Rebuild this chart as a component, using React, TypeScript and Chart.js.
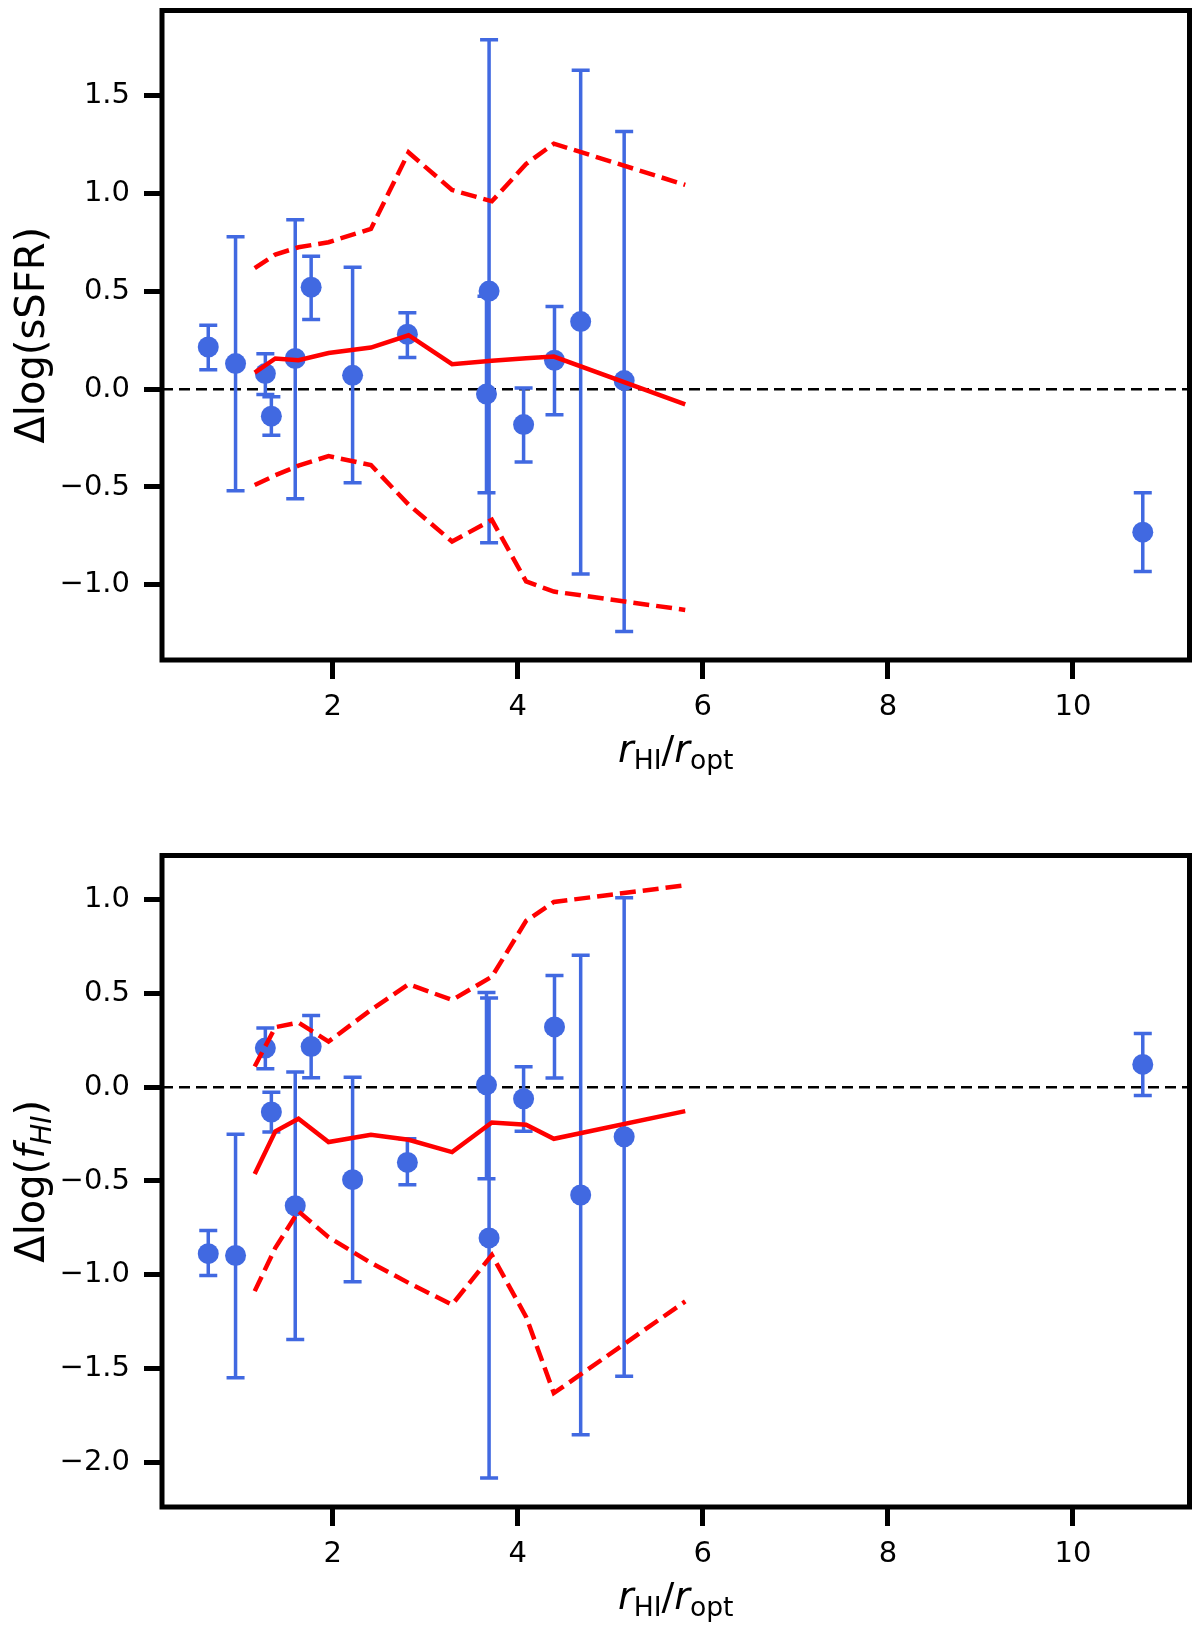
import { useEffect, useRef } from "react";
import { Chart, registerables } from "chart.js";

Chart.register(...registerables);

// galaxies: r_HI / r_opt
const rRatio = [0.655, 0.95, 1.272, 1.337, 1.595, 1.767, 2.215, 2.807, 3.662, 3.69, 4.063, 4.397, 4.68, 5.15, 10.755];

// top panel: delta log sSFR with error range
const ssfr = [0.216, 0.131, 0.08, -0.138, 0.157, 0.522, 0.071, 0.281, -0.025, 0.502, -0.181, 0.148, 0.346, 0.044, -0.731];
const ssfrLo = [0.1, -0.519, -0.027, -0.236, -0.56, 0.357, -0.478, 0.162, -0.529, -0.785, -0.372, -0.131, -0.945, -1.239, -0.932];
const ssfrHi = [0.327, 0.78, 0.182, -0.039, 0.867, 0.68, 0.624, 0.391, 0.475, 1.787, 0.006, 0.423, 1.631, 1.318, -0.529];

// bottom panel: delta log f_HI with error range
const fhi = [-0.888, -0.898, 0.209, -0.132, -0.632, 0.217, -0.493, -0.401, 0.013, -0.804, -0.061, 0.322, -0.575, -0.264, 0.122];
const fhiLo = [-1.005, -1.55, 0.099, -0.239, -1.346, 0.051, -1.038, -0.52, -0.488, -2.085, -0.235, 0.049, -1.854, -1.542, -0.044];
const fhiHi = [-0.765, -0.25, 0.316, -0.026, 0.081, 0.383, 0.054, -0.275, 0.506, 0.477, 0.109, 0.596, 0.704, 1.011, 0.287];

// comparison sample: running median and spread
const binX = [1.157, 1.38, 1.63, 1.955, 2.413, 2.82, 3.29, 3.72, 4.09, 4.39, 5.81];
const ssfrMed = [0.085, 0.157, 0.148, 0.185, 0.213, 0.276, 0.128, 0.146, 0.158, 0.167, -0.077];
const ssfrUp = [0.619, 0.689, 0.726, 0.752, 0.82, 1.211, 1.019, 0.961, 1.152, 1.256, 1.045];
const ssfrDown = [-0.49, -0.44, -0.391, -0.342, -0.388, -0.59, -0.779, -0.668, -0.983, -1.035, -1.129];
const fhiMed = [-0.463, -0.235, -0.168, -0.292, -0.253, -0.28, -0.346, -0.188, -0.2, -0.275, -0.127];
const fhiUp = [0.111, 0.321, 0.345, 0.244, 0.413, 0.55, 0.466, 0.59, 0.888, 0.989, 1.078];
const fhiDown = [-1.088, -0.857, -0.662, -0.8, -0.937, -1.044, -1.16, -0.895, -1.225, -1.632, -1.143];

const xTicks = [2, 4, 6, 8, 10];
const ssfrTicks = [-1.0, -0.5, 0.0, 0.5, 1.0, 1.5];
const fhiTicks = [-2.0, -1.5, -1.0, -0.5, 0.0, 0.5, 1.0];

const FONT = "'DejaVu Sans', sans-serif";
const BLUE = "#4169E1";
const RED = "#FF0000";
const W = 1200;
const H = 814;

type Seg = { t: string; italic?: boolean; sub?: boolean };

function drawRich(ctx: any, segs: Seg[], size: number, cx: number, cy: number, angle: number) {
  const subSize = size * 0.7;
  const fontOf = (s: Seg) => `${s.italic ? "italic " : ""}${s.sub ? subSize : size}px ${FONT}`;
  ctx.save();
  ctx.translate(cx, cy);
  ctx.rotate(angle);
  ctx.fillStyle = "#000";
  ctx.textBaseline = "alphabetic";
  ctx.textAlign = "left";
  let total = 0;
  const widths = segs.map((s) => {
    ctx.font = fontOf(s);
    const w = ctx.measureText(s.t).width;
    total += w;
    return w;
  });
  let x = -total / 2;
  segs.forEach((s, i) => {
    ctx.font = fontOf(s);
    ctx.fillText(s.t, x, s.sub ? size * 0.18 : 0);
    x += widths[i];
  });
  ctx.restore();
}

const xTitle: Seg[] = [
  { t: "r", italic: true },
  { t: "HI", sub: true },
  { t: "/" },
  { t: "r", italic: true },
  { t: "opt", sub: true },
];

function makePlugin(lo: number[], hi: number[], yTitle: Seg[]) {
  return {
    id: "errorBarsAndFrame",
    beforeDatasetsDraw(chart: any) {
      const { ctx, chartArea, scales } = chart;
      ctx.save();
      // zero line
      const y0 = scales.y.getPixelForValue(0);
      ctx.strokeStyle = "#000";
      ctx.lineWidth = 2.5;
      ctx.setLineDash([11, 6]);
      ctx.beginPath();
      ctx.moveTo(chartArea.left, y0);
      ctx.lineTo(chartArea.right, y0);
      ctx.stroke();
      ctx.setLineDash([]);
      // error bars
      ctx.strokeStyle = BLUE;
      ctx.lineWidth = 3.5;
      rRatio.forEach((r, i) => {
        const px = scales.x.getPixelForValue(r);
        const pl = scales.y.getPixelForValue(lo[i]);
        const ph = scales.y.getPixelForValue(hi[i]);
        ctx.beginPath();
        ctx.moveTo(px, pl);
        ctx.lineTo(px, ph);
        ctx.moveTo(px - 9, pl);
        ctx.lineTo(px + 9, pl);
        ctx.moveTo(px - 9, ph);
        ctx.lineTo(px + 9, ph);
        ctx.stroke();
      });
      ctx.restore();
    },
    afterDraw(chart: any) {
      const { ctx, chartArea } = chart;
      ctx.save();
      ctx.strokeStyle = "#000";
      ctx.lineWidth = 5;
      ctx.strokeRect(chartArea.left, chartArea.top, chartArea.right - chartArea.left, chartArea.bottom - chartArea.top);
      ctx.restore();
      const midX = (chartArea.left + chartArea.right) / 2;
      const midY = (chartArea.top + chartArea.bottom) / 2;
      drawRich(ctx, xTitle, 38, midX, chartArea.bottom + 102, 0);
      drawRich(ctx, yTitle, 40, 44, midY, -Math.PI / 2);
    },
  };
}

const fmtY = (v: number) => (v < 0 ? "\u2212" : "") + Math.abs(v).toFixed(1);

const noPadding = (s: any) => {
  s.paddingTop = 0;
  s.paddingBottom = 0;
  s.paddingLeft = 0;
  s.paddingRight = 0;
};

function buildChart(
  canvas: HTMLCanvasElement,
  vals: number[],
  lo: number[],
  hi: number[],
  med: number[],
  up: number[],
  down: number[],
  yTicks: number[],
  yMin: number,
  yMax: number,
  top: number,
  xHeight: number,
  yTitle: Seg[]
) {
  const tickFont = { family: FONT, size: 29 };
  const line = (ys: number[], dash: number[]) => ({
    type: "scatter" as const,
    data: binX.map((x, i) => ({ x, y: ys[i] })),
    showLine: true,
    borderColor: RED,
    borderWidth: 4.5,
    borderDash: dash,
    pointRadius: 0,
    order: 0,
  });
  return new Chart(canvas, {
    type: "scatter",
    data: {
      datasets: [
        line(med, []),
        line(up, [16, 7]),
        line(down, [16, 7]),
        {
          data: rRatio.map((x, i) => ({ x, y: vals[i] })),
          pointRadius: 10.5,
          pointBackgroundColor: BLUE,
          pointBorderColor: BLUE,
          pointBorderWidth: 0,
          order: 1,
        },
      ],
    },
    options: {
      responsive: false,
      animation: false,
      events: [],
      layout: { padding: { top, right: 6, left: 0, bottom: 0 } },
      plugins: { legend: { display: false }, tooltip: { enabled: false } },
      scales: {
        x: {
          type: "linear",
          min: 0.155,
          max: 11.26,
          afterFit: (s: any) => {
            s.height = xHeight;
            noPadding(s);
          },
          afterBuildTicks: (s: any) => {
            s.ticks = xTicks.map((value) => ({ value }));
          },
          grid: { drawOnChartArea: false, drawTicks: true, tickLength: 19, tickWidth: 5, tickColor: "#000" },
          border: { display: false },
          ticks: { font: tickFont, color: "#000", padding: 11, maxRotation: 0, callback: (v: any) => String(v) },
        },
        y: {
          type: "linear",
          min: yMin,
          max: yMax,
          afterFit: (s: any) => {
            s.width = 162;
            noPadding(s);
          },
          afterBuildTicks: (s: any) => {
            s.ticks = yTicks.map((value) => ({ value }));
          },
          grid: { drawOnChartArea: false, drawTicks: true, tickLength: 18, tickWidth: 5, tickColor: "#000" },
          border: { display: false },
          ticks: { font: tickFont, color: "#000", padding: 14, callback: (v: any) => fmtY(Number(v)) },
        },
      },
    },
    plugins: [makePlugin(lo, hi, yTitle)],
  } as any);
}

export default function App() {
  const topRef = useRef<HTMLCanvasElement>(null);
  const bottomRef = useRef<HTMLCanvasElement>(null);

  useEffect(() => {
    if (!topRef.current || !bottomRef.current) return;
    const topChart = buildChart(
      topRef.current, ssfr, ssfrLo, ssfrHi, ssfrMed, ssfrUp, ssfrDown,
      ssfrTicks, -1.385, 1.937, 9.5, H - 660, [{ t: "\u0394log(sSFR)" }]
    );
    const bottomChart = buildChart(
      bottomRef.current, fhi, fhiLo, fhiHi, fhiMed, fhiUp, fhiDown,
      fhiTicks, -2.24, 1.237, 41.5, H - 693,
      [{ t: "\u0394log(" }, { t: "f", italic: true }, { t: "HI", italic: true, sub: true }, { t: ")" }]
    );
    return () => {
      topChart.destroy();
      bottomChart.destroy();
    };
  }, []);

  return (
    <div style={{ position: "absolute", left: 0, top: 0, width: W, background: "#fff" }}>
      <canvas ref={topRef} width={W} height={H} style={{ display: "block", width: W, height: H }} />
      <canvas ref={bottomRef} width={W} height={H} style={{ display: "block", width: W, height: H }} />
    </div>
  );
}
